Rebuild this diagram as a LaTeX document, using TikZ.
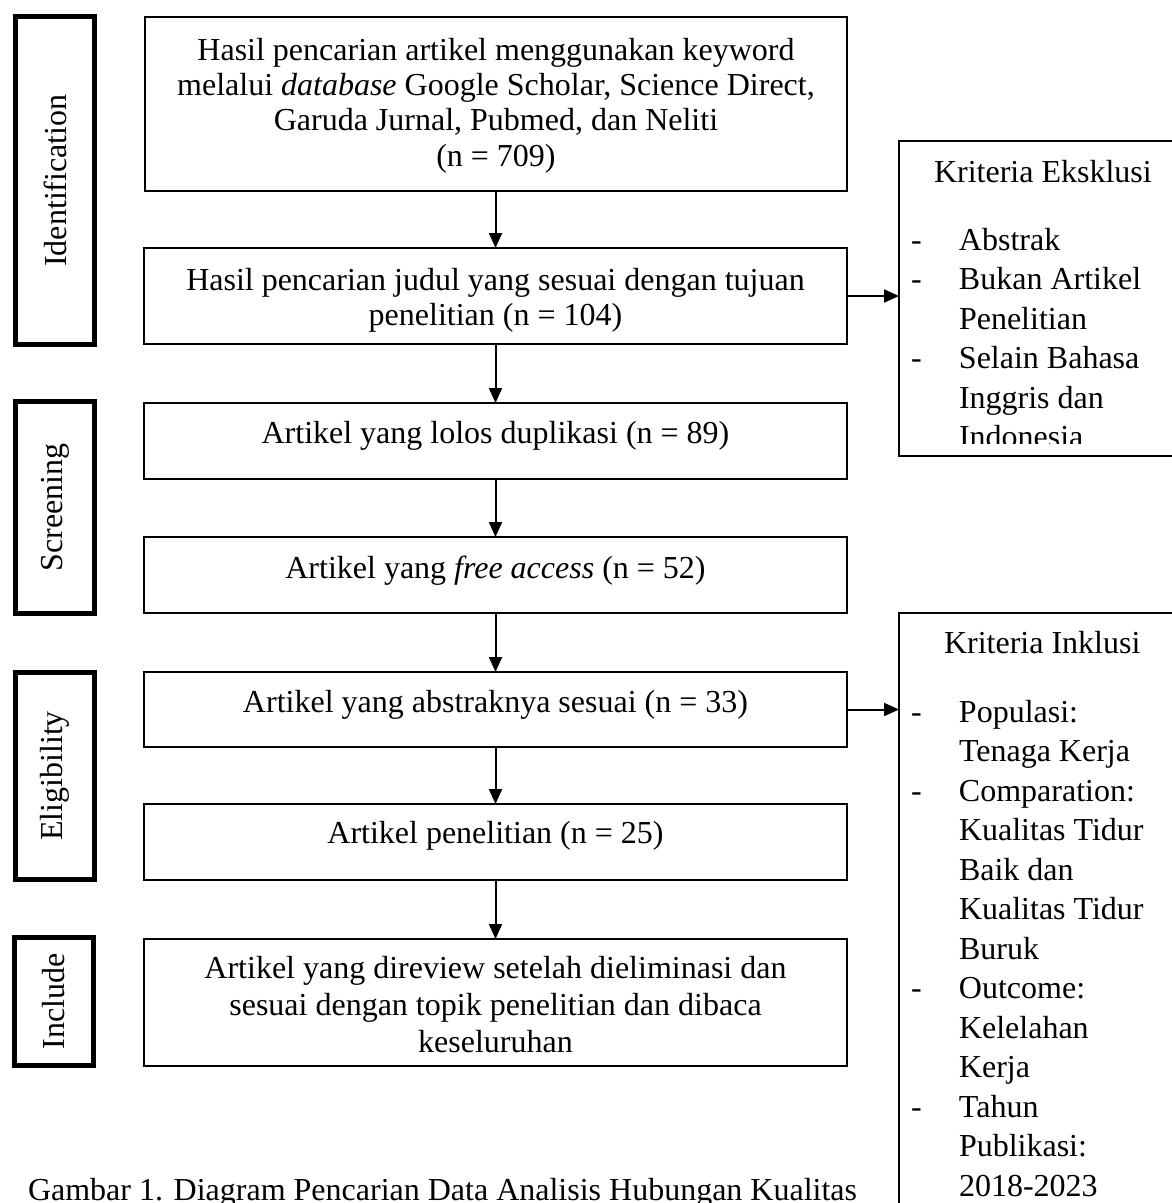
\documentclass[tikz,border=0pt]{standalone}
\usepackage{fontspec}
\setmainfont{Liberation Serif}
\usepackage{graphicx}
\usetikzlibrary{arrows.meta}
\begin{document}
\begin{tikzpicture}[x=1pt,y=-1pt,
  flowbox/.style={draw, line width=2pt, inner sep=0pt, outer sep=0pt, anchor=north west, font=\fontsize{32}{35.4}\selectfont},
  stagebox/.style={draw, line width=5pt, inner sep=0pt, outer sep=0pt, font=\fontsize{32}{38}\selectfont},
  listbox/.style={draw, line width=2pt, inner sep=0pt, outer sep=0pt, anchor=north west},
  txt/.style={inner sep=0pt, outer sep=0pt, anchor=base west, font=\fontsize{32}{39.5}\selectfont},
  flowarrow/.style={line width=2pt, -{Triangle[length=15pt,width=13pt]}}
]
\useasboundingbox[fill=white] (0,0) rectangle (1171,1203);

% stage labels
\node[stagebox, minimum width=79pt, minimum height=328pt] (s1) at (55,180.5) {\rotatebox{90}{Identification}};
\node[stagebox, minimum width=79pt, minimum height=212pt] (s2) at (55,507.5) {\rotatebox{90}{Screening}};
\node[stagebox, minimum width=79pt, minimum height=207pt] (s3) at (55,776) {\rotatebox{90}{Eligibility}};
\node[stagebox, minimum width=79pt, minimum height=128pt] (s4) at (54,1001.5) {\rotatebox{90}{Include}};

% flow boxes
\node[flowbox, minimum width=702pt, text height=43pt, text depth=131pt] (b1) at (145,17)
  {\parbox[t]{702pt}{\centering Hasil pencarian artikel menggunakan keyword\\ melalui \textit{database} Google Scholar, Science Direct,\\ Garuda Jurnal, Pubmed, dan Neliti\\ (n = 709)}};
\node[flowbox, minimum width=703pt, text height=42pt, text depth=54pt] (b2) at (144,248)
  {\parbox[t]{703pt}{\centering Hasil pencarian judul yang sesuai dengan tujuan\\ penelitian (n = 104)}};
\node[flowbox, minimum width=703pt, text height=40pt, text depth=36pt] (b3) at (144,403)
  {\parbox[t]{703pt}{\centering Artikel yang lolos duplikasi (n = 89)}};
\node[flowbox, minimum width=703pt, text height=41pt, text depth=35pt] (b4) at (144,537)
  {\parbox[t]{703pt}{\centering Artikel yang \textit{free access} (n = 52)}};
\node[flowbox, minimum width=703pt, text height=40pt, text depth=35pt] (b5) at (144,672)
  {\parbox[t]{703pt}{\centering Artikel yang abstraknya sesuai (n = 33)}};
\node[flowbox, minimum width=703pt, text height=39pt, text depth=37pt] (b6) at (144,804)
  {\parbox[t]{703pt}{\centering Artikel penelitian (n = 25)}};
\node[flowbox, minimum width=703pt, text height=39pt, text depth=88pt] (b7) at (144,939)
  {\parbox[t]{703pt}{\fontsize{32}{37}\selectfont\centering Artikel yang direview setelah dieliminasi dan\\ sesuai dengan topik penelitian dan dibaca\\ keseluruhan}};

% criteria boxes
\node[listbox, minimum width=402pt, minimum height=315pt] (ex) at (899,141) {};
\node[listbox, minimum width=402pt, minimum height=700pt] (in) at (899,613) {};

\node[txt] (exh) at (934,182) {Kriteria Eksklusi};
\begin{scope}
  \clip (899,141) rectangle (1171,443);
  \node[txt] (exl) at (911,250) {\parbox[t]{300pt}{\raggedright
    \makebox[48pt][l]{-}Abstrak\\
    \makebox[48pt][l]{-}Bukan Artikel\\
    \hspace*{48pt}Penelitian\\
    \makebox[48pt][l]{-}Selain Bahasa\\
    \hspace*{48pt}Inggris dan\\
    \hspace*{48pt}Indonesia}};
\end{scope}

\node[txt] (inh) at (944,653) {Kriteria Inklusi};
\node[txt] (inl) at (911,722) {\parbox[t]{300pt}{\raggedright
    \makebox[48pt][l]{-}Populasi:\\
    \hspace*{48pt}Tenaga Kerja\\
    \makebox[48pt][l]{-}Comparation:\\
    \hspace*{48pt}Kualitas Tidur\\
    \hspace*{48pt}Baik dan\\
    \hspace*{48pt}Kualitas Tidur\\
    \hspace*{48pt}Buruk\\
    \makebox[48pt][l]{-}Outcome:\\
    \hspace*{48pt}Kelelahan\\
    \hspace*{48pt}Kerja\\
    \makebox[48pt][l]{-}Tahun\\
    \hspace*{48pt}Publikasi:\\
    \hspace*{48pt}2018-2023}};

% caption
\node[txt] (cap) at (28,1200) {Gambar 1. Diagram Pencarian Data Analisis Hubungan Kualitas};

% connectors
\draw[flowarrow] (b2.north |- b1.south) -- (b2.north);
\draw[flowarrow] (b2.south) -- (b3.north);
\draw[flowarrow] (b3.south) -- (b4.north);
\draw[flowarrow] (b4.south) -- (b5.north);
\draw[flowarrow] (b5.south) -- (b6.north);
\draw[flowarrow] (b6.south) -- (b7.north);
\draw[flowarrow] (b2.east) -- (ex.west |- b2.east);
\draw[flowarrow] (b5.east) -- (in.west |- b5.east);
\end{tikzpicture}
\end{document}
